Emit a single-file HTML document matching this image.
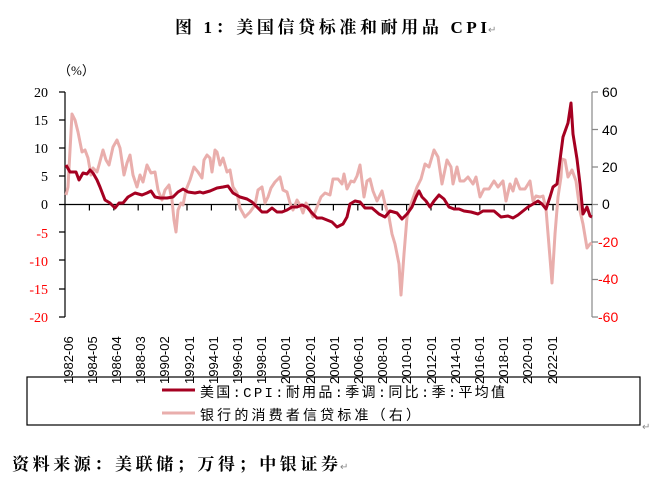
<!DOCTYPE html>
<html><head><meta charset="utf-8"><style>
body{margin:0;background:#fff;width:650px;height:488px;overflow:hidden;font-family:"Liberation Serif","Noto Serif CJK SC",serif}
</style></head><body>
<svg width="650" height="488" xmlns="http://www.w3.org/2000/svg" style="position:absolute;left:0;top:0">
<text x="175" y="33" font-size="17" font-weight="bold" font-family="Liberation Serif, Noto Serif CJK SC, serif" textLength="312" lengthAdjust="spacing">图 1：美国信贷标准和耐用品 CPI</text>
<text x="488" y="33" font-size="10" fill="#888">↵</text>
<text x="58" y="75" font-size="13" font-family="Liberation Serif, Noto Sans CJK SC, serif">（%）</text>
<g font-size="14" text-anchor="end" font-family="Liberation Serif, serif">
<text x="48" y="97">20</text><text x="48" y="125">15</text><text x="48" y="153">10</text><text x="48" y="181">5</text><text x="48" y="209">0</text>
<text x="48" y="238" fill="#f00">-5</text><text x="48" y="266" fill="#f00">-10</text><text x="48" y="294" fill="#f00">-15</text><text x="48" y="322" fill="#f00">-20</text>
</g>
<g font-size="14" font-family="Liberation Sans, sans-serif">
<text x="602" y="97">60</text><text x="602" y="135">40</text><text x="602" y="172">20</text><text x="602" y="209">0</text>
<text x="598" y="247" fill="#f00">-20</text><text x="598" y="284" fill="#f00">-40</text><text x="598" y="322" fill="#f00">-60</text>
</g>
<g stroke="#000" stroke-width="1.2" fill="none">
<path d="M65,92V317M59,92H65M59,120H65M59,148H65M59,176H65M59,204.5H65M59,232H65M59,260H65M59,289H65M59,317H65"/>
</g>
<g stroke="#888" stroke-width="1.2" fill="none">
<path d="M592,92V317M592,92H598M592,129.5H598M592,167H598M592,204.5H598M592,242H598M592,279.5H598M592,317H598"/>
</g>
<path d="M65,204.5H592" stroke="#000" stroke-width="1.2"/>
<path stroke="#000" stroke-width="1.2" d="M89.4,204.5v6M113.8,204.5v6M138.2,204.5v6M162.6,204.5v6M187,204.5v6M211.4,204.5v6M235.8,204.5v6M260.2,204.5v6M284.6,204.5v6M309,204.5v6M333.4,204.5v6M357.8,204.5v6M382.2,204.5v6M406.6,204.5v6M431,204.5v6M455.4,204.5v6M479.8,204.5v6M504.2,204.5v6M528.6,204.5v6M553,204.5v6M577.4,204.5v6"/>
<polyline fill="none" stroke="#e9aeac" stroke-width="3" stroke-linejoin="round" points="66,195 68,187 72,114 75,120 78,132 82,152 85,150 88,158 91,175 93,168 97,172 99,165 103,150 106,160 109,165 113,147 117,140 120,148 124,175 127,163 130,155 133,175 137,187 140,175 143,182 147,165 151,173 155,172 158,190 162,200 165,190 169,185 172,200 174,220 176,232 178,210 181,203 183,205 186,190 190,180 194,167 198,172 202,178 204,160 207,155 210,158 212,172 215,150 217,152 220,165 223,158 227,172 230,170 233,187 237,193 240,208 245,217 250,212 255,205 258,190 262,187 265,203 268,197 271,188 275,182 280,177 283,190 287,192 290,203 293,210 297,200 300,205 303,213 306,203 309,208 313,217 317,207 321,197 325,193 330,195 333,179 338,179 342,184 344,174 347,189 351,181 354,182 357,176 360,165 364,197 367,181 370,179 373,191 377,201 382,191 385,204 389,217 392,234 395,244 399,264 401,295 404,254 407,217 412,201 417,187 421,179 425,164 429,167 434,150 438,157 442,184 447,160 451,167 453,184 457,167 460,181 464,181 468,177 473,184 476,177 480,197 484,189 489,189 494,181 498,187 503,181 506,201 510,184 513,191 516,179 520,189 525,189 530,181 533,201 536,196 540,197 543,196 546,209 550,258 552,283 555,234 558,197 561,177 562,159 565,160 568,177 572,170 576,181 580,211 583,224 587,248 590,244 592,243"/>
<polyline fill="none" stroke="#a50021" stroke-width="3" stroke-linejoin="round" points="66,165 70,172 76,172 79,180 83,173 87,174 90,170 93,173 97,180 100,187 105,200 110,203 115,208 119,203 123,203 128,197 135,193 142,195 147,193 151,191 155,197 160,198 167,198 173,197 178,192 183,189 188,192 195,193 200,192 203,193 210,191 217,188 223,187 228,186 233,193 240,197 247,199 252,202 257,207 262,212 267,212 272,208 277,212 282,212 287,210 292,207 297,207 302,205 307,207 312,213 317,218 322,218 327,220 332,222 337,227 343,224 347,217 350,204 355,201 360,202 365,208 372,208 379,214 385,217 390,211 397,213 402,219 407,214 412,207 416,197 419,191 422,197 426,201 430,207 434,201 439,195 444,199 449,207 454,209 459,209 464,211 471,212 478,214 483,211 489,211 494,211 501,217 508,216 513,218 518,215 523,211 528,207 533,204 538,201 542,204 546,209 550,197 553,187 557,184 560,160 563,137 568,123 571,103 573,134 577,159 580,184 583,214 587,207 590,216 592,217"/>
<g font-size="13" font-family="Liberation Sans, sans-serif">
<text transform="translate(73,384) rotate(-90)">1982-06</text>
<text transform="translate(97,384) rotate(-90)">1984-05</text>
<text transform="translate(121,384) rotate(-90)">1986-04</text>
<text transform="translate(145,384) rotate(-90)">1988-03</text>
<text transform="translate(169,384) rotate(-90)">1990-02</text>
<text transform="translate(194,384) rotate(-90)">1992-01</text>
<text transform="translate(218,384) rotate(-90)">1994-01</text>
<text transform="translate(242,384) rotate(-90)">1996-01</text>
<text transform="translate(266,384) rotate(-90)">1998-01</text>
<text transform="translate(290,384) rotate(-90)">2000-01</text>
<text transform="translate(315,384) rotate(-90)">2002-01</text>
<text transform="translate(339,384) rotate(-90)">2004-01</text>
<text transform="translate(363,384) rotate(-90)">2006-01</text>
<text transform="translate(387,384) rotate(-90)">2008-01</text>
<text transform="translate(411,384) rotate(-90)">2010-01</text>
<text transform="translate(436,384) rotate(-90)">2012-01</text>
<text transform="translate(460,384) rotate(-90)">2014-01</text>
<text transform="translate(484,384) rotate(-90)">2016-01</text>
<text transform="translate(508,384) rotate(-90)">2018-01</text>
<text transform="translate(532,384) rotate(-90)">2020-01</text>
<text transform="translate(557,384) rotate(-90)">2022-01</text>
</g>
<rect x="27" y="377" width="613" height="48" fill="none" stroke="#000" stroke-width="1.2"/>
<line x1="162" y1="390" x2="195" y2="390" stroke="#a50021" stroke-width="3"/>
<line x1="162" y1="413" x2="195" y2="413" stroke="#e9aeac" stroke-width="3"/>
<g font-size="14" font-family="Liberation Mono, Noto Sans CJK SC, monospace">
<text x="200" y="397" textLength="305" lengthAdjust="spacing">美国:CPI:耐用品:季调:同比:季:平均值</text>
<text x="200" y="420" textLength="220" lengthAdjust="spacing">银行的消费者信贷标准（右）</text>
</g>
<text x="642" y="430" font-size="10" fill="#888">↵</text>
<text x="12" y="470" font-size="17" font-weight="bold" font-family="Liberation Serif, Noto Serif CJK SC, serif" textLength="326" lengthAdjust="spacing">资料来源：美联储；万得；中银证券</text>
<text x="340" y="470" font-size="10" fill="#888">↵</text>
</svg>
</body></html>
